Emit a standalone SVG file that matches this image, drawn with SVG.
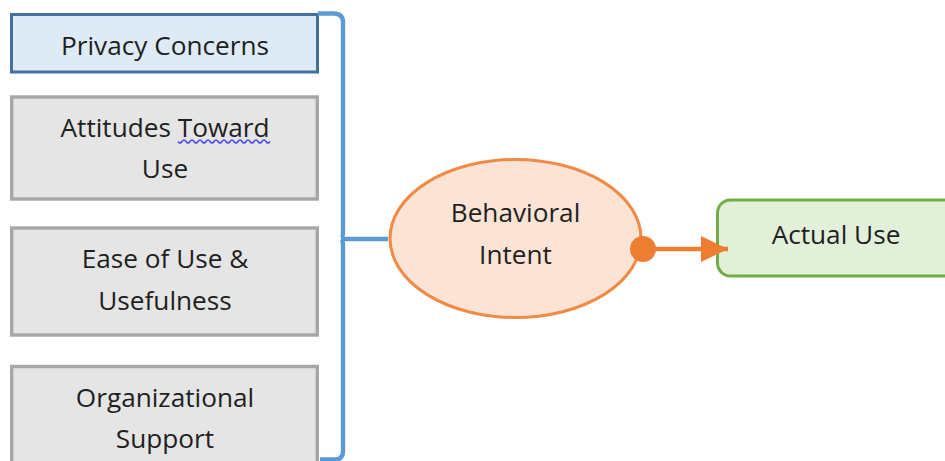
<svg xmlns="http://www.w3.org/2000/svg" width="945" height="461" viewBox="0 0 945 461">
<style>
text{font-family:"Open Sans","Noto Sans","Liberation Sans",sans-serif;font-size:26.200px;fill:#1f1f1f;text-anchor:middle}
.g{fill:#e5e5e5;stroke:#a8a6a6;stroke-width:3.4}
</style>
<defs><marker id="arr" markerUnits="userSpaceOnUse" markerWidth="28" markerHeight="28" refX="27" refY="14" orient="auto"><path d="M0,1V27L27,14Z" fill="#ed7d31"/></marker></defs>
<rect width="945" height="461" fill="#fff"/>
<g id="privacy"><rect x="11.500" y="14.500" width="306" height="57.500" fill="#deeaf6" stroke="#41719c" stroke-width="3"/><text x="165" y="55">Privacy Concerns</text></g>
<g id="attitudes"><rect class="g" x="11.700" y="97" width="305.600" height="102"/><text x="165" y="137">Attitudes Toward</text><text x="165" y="178">Use</text><path d="M178,141.500q2,3 4,0t4,0t4,0t4,0t4,0t4,0t4,0t4,0t4,0t4,0t4,0t4,0t4,0t4,0t4,0t4,0t4,0t4,0t4,0t4,0t4,0t4,0t4,0" fill="none" stroke="#4a4af0" stroke-width="1.600"/></g>
<g id="ease"><rect class="g" x="11.700" y="228" width="305.600" height="107"/><text x="165" y="268">Ease of Use &amp;</text><text x="165" y="310">Usefulness</text></g>
<g id="org"><rect class="g" x="11.700" y="366.500" width="305.600" height="97"/><text x="165" y="407">Organizational</text><text x="165" y="448">Support</text></g>
<g id="intent"><ellipse cx="515.500" cy="238.500" rx="125.500" ry="79" fill="#fbe4d5" stroke="#f08a45" stroke-width="3"/><text x="515.500" y="222">Behavioral</text><text x="515.500" y="264">Intent</text></g>
<g id="actual"><rect x="717.500" y="200" width="240" height="76" rx="13" fill="#e2efd9" stroke="#70ad47" stroke-width="3"/><text x="836" y="244">Actual Use</text></g>
<g id="connectors" fill="none">
<path d="M318,13.500H334Q343,14 343,22V231Q343,239 341,239H388M341,239Q343,240 343,246V451Q343,459 336,459.500H320" stroke="#5b9bd5" stroke-width="4.400"/>
<path d="M642,249H728" stroke="#ed7d31" stroke-width="4.500" marker-end="url(#arr)"/>
</g>
<circle id="dot" cx="643" cy="249" r="13" fill="#ed7d31"/>
</svg>
